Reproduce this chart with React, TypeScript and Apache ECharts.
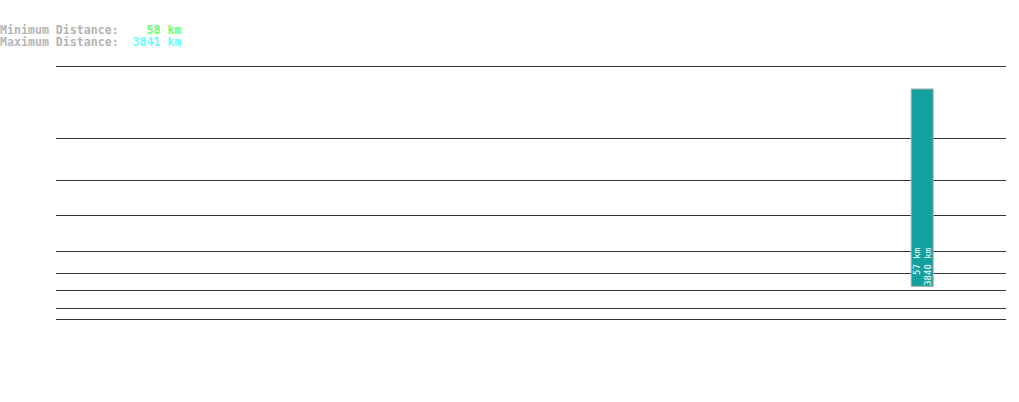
import React, { useEffect, useRef } from 'react';
import * as echarts from 'echarts';

// slots along the x axis, only one holds a range
const slots = Array.from({ length: 17 }, (_, i) => 'S' + (i + 1));
const rangeLow: (number | null)[] = [null, null, null, null, null, null, null, null, null, null, null, null, null, null, null, 57, null];
const rangeHigh: (number | null)[] = [null, null, null, null, null, null, null, null, null, null, null, null, null, null, null, 3840, null];

// header figures
const minDistance = 58;
const maxDistance = 3841;

// horizontal guide levels (km)
const guideLevels = [4268, 2895, 2095, 1428, 741, 322, 0, -345, -555];
const axisMin = -555;
const axisMax = 4268;

export default function App() {
  const ref = useRef<HTMLDivElement>(null);
  useEffect(() => {
    if (!ref.current) return;
    document.body.style.margin = '0';
    const chart = echarts.init(ref.current, undefined, { renderer: 'svg' });
    const mono = 'DejaVu Sans Mono, monospace';
    const span = rangeHigh.map((h, i) => (h == null || rangeLow[i] == null ? null : h - (rangeLow[i] as number)));
    const head = { fontFamily: mono, fontSize: 11.6, fontWeight: 'bold', lineHeight: 12 };
    chart.setOption({
      animation: false,
      backgroundColor: '#fff',
      title: {
        left: 0,
        top: 24,
        padding: 0,
        text: '{l|Minimum Distance:}{g|' + String(minDistance + ' km').padStart(9, ' ') + '}\n{l|Maximum Distance:}{c|' + String(maxDistance + ' km').padStart(9, ' ') + '}',
        textStyle: {
          rich: {
            l: { ...head, color: '#b4b4b4' },
            g: { ...head, color: '#66ff66' },
            c: { ...head, color: '#66ffff' },
          },
        },
      },
      grid: { left: 56, right: 13, top: 66, bottom: 83 },
      xAxis: {
        type: 'category',
        data: slots,
        axisLine: { show: false },
        axisTick: { show: false },
        axisLabel: { show: false },
        splitLine: { show: false },
      },
      yAxis: {
        type: 'value',
        min: axisMin,
        max: axisMax,
        axisLine: { show: false },
        axisTick: { show: false },
        axisLabel: { show: false },
        splitLine: { show: false },
      },
      series: [
        {
          type: 'bar',
          stack: 'r',
          data: rangeLow,
          barWidth: 23,
          itemStyle: { color: 'transparent' },
          silent: true,
          markLine: {
            silent: true,
            symbol: 'none',
            label: { show: false },
            lineStyle: { color: '#333', width: 1, type: 'solid' },
            data: guideLevels.map((v) => ({ yAxis: v })),
          },
        },
        {
          type: 'bar',
          stack: 'r',
          data: span,
          barWidth: 23,
          itemStyle: { color: '#12a19e', borderColor: '#b0b0b0', borderWidth: 1 },
          z: 5,
          label: {
            show: true,
            position: 'insideBottom',
            distance: 39,
            rotate: 90,
            align: 'right',
            verticalAlign: 'middle',
            color: '#fff',
            fontFamily: mono,
            fontSize: 9,
            lineHeight: 11,
            formatter: (p: any) => rangeLow[p.dataIndex] + ' km\n' + rangeHigh[p.dataIndex] + ' km',
          },
        },
      ],
    });
    return () => chart.dispose();
  }, []);
  return <div ref={ref} style={{ width: 1019, height: 402 }} />;
}
